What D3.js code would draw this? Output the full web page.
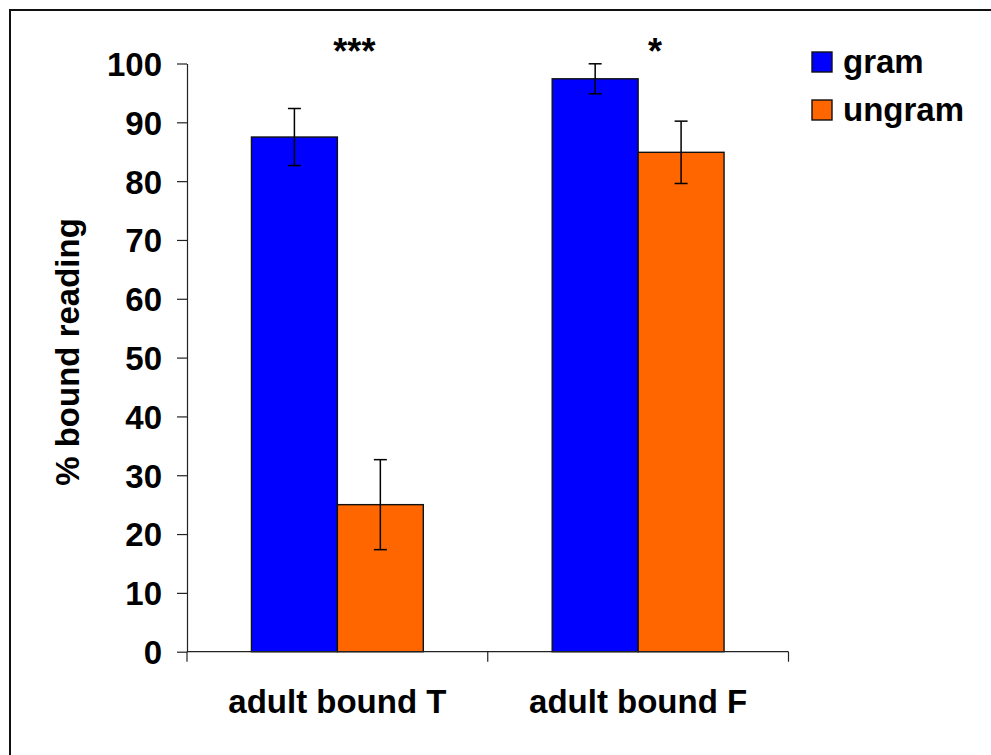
<!DOCTYPE html>
<html>
<head>
<meta charset="utf-8">
<script src="https://cdn.jsdelivr.net/npm/d3@7"></script>
<style>
  html, body { margin: 0; padding: 0; background: #fff; }
  svg { display: block; }
  text { font-family: "Liberation Sans", Arial, Helvetica, sans-serif; font-weight: bold; fill: #000; }
</style>
</head>
<body>
<svg id="chart" width="991" height="755"></svg>
<script>
// Conditions on the x axis and the two sentence types
const categories = ["adult bound T", "adult bound F"];
const series = ["gram", "ungram"];
// Mean % bound reading per condition, one array per series
const gramValues = [87.5, 97.4];
const ungramValues = [25.0, 84.9];
// Error bar half-lengths
const gramErrors = [4.85, 2.55];
const ungramErrors = [7.65, 5.3];
// Significance markers above each condition
const significance = ["***", "*"];
const yTicks = [0, 10, 20, 30, 40, 50, 60, 70, 80, 90, 100];
const yTitle = "% bound reading";

const colors = { gram: "#0000FF", ungram: "#FF6600" };

const rows = categories.map((c, i) => ({
  category: c,
  values: [
    { key: "gram", value: gramValues[i], err: gramErrors[i] },
    { key: "ungram", value: ungramValues[i], err: ungramErrors[i] }
  ]
}));

const svg = d3.select("#chart");

// Outer frame (runs off the right and bottom edges)
svg.append("rect")
  .attr("x", 10).attr("y", 10)
  .attr("width", 1100).attr("height", 900)
  .attr("fill", "#fff")
  .attr("stroke", "#111").attr("stroke-width", 2);

const plot = { left: 187, right: 788.5, top: 63.5, bottom: 651.7 };

const x0 = d3.scaleBand()
  .domain(categories)
  .range([plot.left, plot.right])
  .padding(0);

const x1 = d3.scaleBand()
  .domain(series)
  .range([0, x0.bandwidth()])
  .paddingInner(0)
  .paddingOuter(0.75);

const y = d3.scaleLinear()
  .domain([0, 100])
  .range([plot.bottom, plot.top]);

// Bars
const groups = svg.append("g").selectAll("g")
  .data(rows)
  .join("g")
  .attr("transform", d => `translate(${x0(d.category)},0)`);

groups.selectAll("rect")
  .data(d => d.values)
  .join("rect")
  .attr("x", d => x1(d.key))
  .attr("y", d => y(d.value))
  .attr("width", x1.bandwidth())
  .attr("height", d => y(0) - y(d.value))
  .attr("fill", d => colors[d.key])
  .attr("stroke", "#111")
  .attr("stroke-width", 1.4);

// Error bars
const capHalf = 6.5;
const eb = groups.selectAll("g.err")
  .data(d => d.values)
  .join("g")
  .attr("class", "err")
  .attr("stroke", "#000")
  .attr("stroke-width", 1.5);

eb.append("line")
  .attr("x1", d => x1(d.key) + x1.bandwidth() / 2)
  .attr("x2", d => x1(d.key) + x1.bandwidth() / 2)
  .attr("y1", d => y(d.value + d.err))
  .attr("y2", d => y(d.value - d.err));
eb.append("line")
  .attr("x1", d => x1(d.key) + x1.bandwidth() / 2 - capHalf)
  .attr("x2", d => x1(d.key) + x1.bandwidth() / 2 + capHalf)
  .attr("y1", d => y(d.value + d.err))
  .attr("y2", d => y(d.value + d.err));
eb.append("line")
  .attr("x1", d => x1(d.key) + x1.bandwidth() / 2 - capHalf)
  .attr("x2", d => x1(d.key) + x1.bandwidth() / 2 + capHalf)
  .attr("y1", d => y(d.value - d.err))
  .attr("y2", d => y(d.value - d.err));

// Y axis
const yAxis = svg.append("g")
  .attr("transform", `translate(${plot.left},0)`)
  .call(d3.axisLeft(y).tickValues(yTicks).tickSize(10).tickSizeOuter(0).tickPadding(15));
yAxis.select(".domain").attr("stroke", "#222").attr("stroke-width", 1.2);
yAxis.selectAll(".tick line").attr("stroke", "#222").attr("stroke-width", 1.2);
yAxis.selectAll(".tick text")
  .attr("font-size", 33)
  .attr("font-family", null)
  .attr("dy", "0.36em");

// X axis: boundary ticks between categories, labels centred under each group
const xAxis = svg.append("g")
  .attr("transform", `translate(0,${plot.bottom})`);
xAxis.append("line")
  .attr("x1", plot.left).attr("x2", plot.right)
  .attr("stroke", "#222").attr("stroke-width", 1.2);
const boundaries = categories.map(c => x0(c)).concat([x0(categories[categories.length - 1]) + x0.step()]);
xAxis.selectAll("line.tick")
  .data(boundaries)
  .join("line")
  .attr("class", "tick")
  .attr("x1", d => d).attr("x2", d => d)
  .attr("y1", 0).attr("y2", 10)
  .attr("stroke", "#222").attr("stroke-width", 1.2);
xAxis.selectAll("text.cat")
  .data(categories)
  .join("text")
  .attr("class", "cat")
  .attr("x", d => x0(d) + x0.bandwidth() / 2)
  .attr("y", 61)
  .attr("text-anchor", "middle")
  .attr("font-size", 33)
  .text(d => d);

// Significance stars
svg.selectAll("text.sig")
  .data(categories)
  .join("text")
  .attr("class", "sig")
  .attr("x", d => x0(d) + x0.bandwidth() / 2 + 17)
  .attr("y", 64)
  .attr("text-anchor", "middle")
  .attr("font-size", 36)
  .text((d, i) => significance[i]);

// Y axis title
svg.append("text")
  .attr("transform", "translate(79,352) rotate(-90)")
  .attr("text-anchor", "middle")
  .attr("font-size", 33)
  .text(yTitle);

// Legend
const legend = svg.append("g").attr("transform", "translate(812,52)");
const li = legend.selectAll("g")
  .data(series)
  .join("g")
  .attr("transform", (d, i) => `translate(0,${i * 48})`);
li.append("rect")
  .attr("width", 20).attr("height", 20)
  .attr("fill", d => colors[d])
  .attr("stroke", "#111").attr("stroke-width", 1.4);
li.append("text")
  .attr("x", 31).attr("y", 21)
  .attr("font-size", 33)
  .text(d => d);
</script>
</body>
</html>
